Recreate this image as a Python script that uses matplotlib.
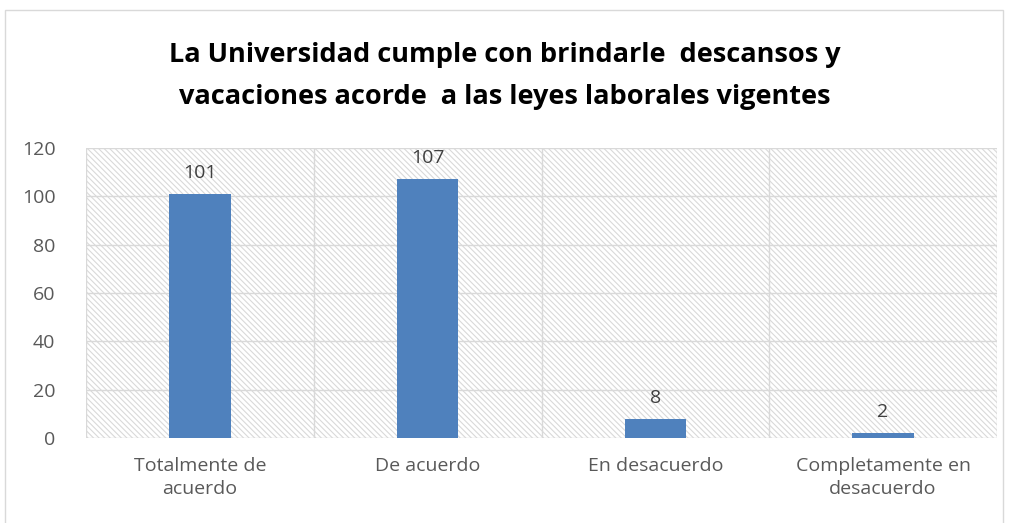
import matplotlib.pyplot as plt
from matplotlib.patches import Rectangle
import numpy as np

categories = ['Totalmente de\nacuerdo', 'De acuerdo', 'En desacuerdo', 'Completamente en\ndesacuerdo']
values = [101, 107, 8, 2]
yticks = [0, 20, 40, 60, 80, 100, 120]
title = 'La Universidad cumple con brindarle  descansos y\nvacaciones acorde  a las leyes laborales vigentes'

plt.rcParams['font.family'] = ['Open Sans', 'DejaVu Sans']
plt.rcParams['hatch.color'] = '#d0d0d0'
plt.rcParams['hatch.linewidth'] = 0.8

fig = plt.figure(figsize=(10.1, 5.23), dpi=100)
# outer chart frame
fig.patches.append(Rectangle((5 / 1010, -0.01), 998 / 1010, 1 - 10 / 523 + 0.01,
                             transform=fig.transFigure, fill=False,
                             edgecolor='#d9d9d9', linewidth=1))

ax = fig.add_axes([86 / 1010, 1 - 438 / 523, (997 - 86) / 1010, (438 - 148) / 523])

# hatched plot background
ax.add_patch(Rectangle((0, 0), 1, 1, transform=ax.transAxes, facecolor='white',
                       edgecolor='#d9d9d9', hatch='\\\\\\\\\\\\', linewidth=0, zorder=0))

x = np.arange(len(categories))
ax.bar(x, values, width=0.27, color='#4f81bd', zorder=3)
for xi, v in zip(x, values):
    ax.text(xi, v + 5, str(v), ha='center', va='bottom', fontsize=14, color='#404040', zorder=4)

ax.set_xlim(-0.5, len(categories) - 0.5)
ax.set_ylim(0, 120)
ax.set_yticks(yticks)
ax.set_yticklabels([str(t) for t in yticks], fontsize=14, color='#595959')
ax.set_xticks(x)
ax.set_xticklabels(categories, fontsize=14, color='#595959', linespacing=1.35)
ax.tick_params(length=0)
ax.tick_params(axis='x', pad=14)
ax.tick_params(axis='y', pad=22)

# gridlines: horizontal at ticks, vertical at category boundaries
for t in yticks:
    ax.axhline(t, color='#d9d9d9', linewidth=1, zorder=1)
for b in np.arange(-0.5, len(categories), 1.0):
    ax.axvline(b, color='#d9d9d9', linewidth=1, zorder=1)
for s in ax.spines.values():
    s.set_visible(False)

fig.text(0.5, 1 - 76 / 523, title, ha='center', va='center', fontsize=19.5,
         fontweight='bold', color='black', linespacing=1.75)

fig.savefig('out.png', dpi=100)
